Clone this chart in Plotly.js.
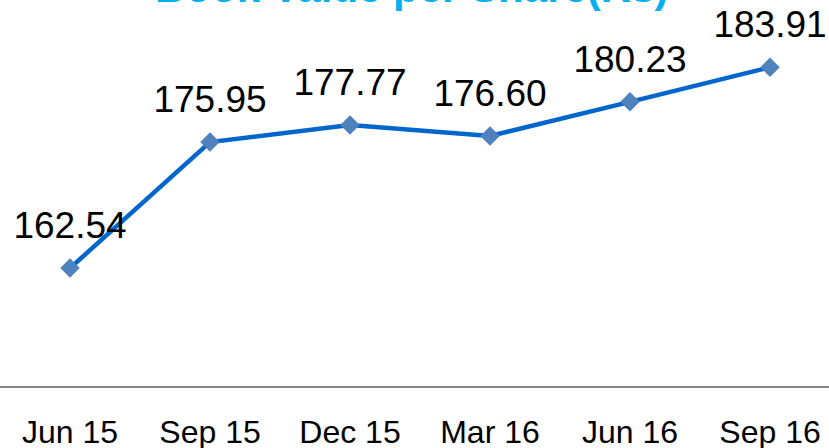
<!DOCTYPE html>
<html>
<head>
<meta charset="utf-8">
<script src="https://cdn.plot.ly/plotly-3.0.1.min.js"></script>
<style>html,body{margin:0;padding:0;overflow:hidden;background:#fff;}</style>
</head>
<body>
<div id="chart" style="width:829px;height:448px;"></div>
<script>
const categories = ["Jun 15", "Sep 15", "Dec 15", "Mar 16", "Jun 16", "Sep 16"];
const bookValue = [162.54, 175.95, 177.77, 176.60, 180.23, 183.91];
const chartTitle = "Book Value per Share(Rs)";

const lineTrace = {
  x: categories,
  y: bookValue,
  type: "scatter",
  mode: "lines+markers",
  line: {color: "#0066CC", width: 4.5},
  marker: {symbol: "diamond", size: 15, color: "#4F81BD"},
  hoverinfo: "skip",
  cliponaxis: false
};

const labelTrace = {
  x: categories,
  y: bookValue,
  type: "scatter",
  mode: "markers+text",
  text: bookValue.map(v => v.toFixed(2)),
  textposition: "top center",
  textfont: {family: "Liberation Sans, Arial, sans-serif", size: 37, color: "#000000"},
  marker: {size: 32, color: "rgba(0,0,0,0)"},
  hoverinfo: "skip",
  cliponaxis: false
};

const layout = {
  width: 829,
  height: 448,
  margin: {l: 0, r: 0, t: 10, b: 62, pad: 0},
  paper_bgcolor: "#ffffff",
  plot_bgcolor: "#ffffff",
  showlegend: false,
  xaxis: {
    type: "category",
    range: [-0.5, 5.5 - 11/140],
    showgrid: false,
    zeroline: false,
    showline: true,
    linecolor: "#868686",
    linewidth: 1.5,
    ticks: "",
    tickfont: {family: "Liberation Sans, Arial, sans-serif", size: 32, color: "#000000"},
    ticklabelstandoff: 17,
    fixedrange: true
  },
  yaxis: {
    range: [150, 190],
    visible: false,
    showgrid: false,
    zeroline: false,
    fixedrange: true
  },
  annotations: [{
    text: "<b>" + chartTitle + "</b>",
    xref: "paper", yref: "paper",
    x: 412/829, y: 1,
    xanchor: "center", yanchor: "bottom",
    yshift: -3,
    showarrow: false,
    font: {family: "Liberation Sans, Arial, sans-serif", size: 42, color: "#00B0F0"}
  }]
};

Plotly.newPlot("chart", [lineTrace, labelTrace], layout, {displayModeBar: false, staticPlot: true});
</script>
</body>
</html>
